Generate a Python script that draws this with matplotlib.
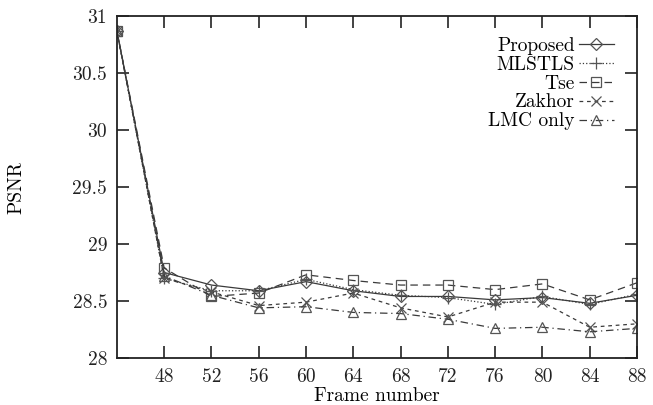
import matplotlib
matplotlib.use('Agg')
import matplotlib.pyplot as plt

plt.rcParams['font.family'] = 'cmr10'
plt.rcParams['axes.formatter.use_mathtext'] = True
plt.rcParams['mathtext.fontset'] = 'cm'

frames = [44, 48, 52, 56, 60, 64, 68, 72, 76, 80, 84, 88]
proposed = [30.87, 28.75, 28.64, 28.59, 28.67, 28.59, 28.54, 28.54, 28.51, 28.53, 28.48, 28.55]
mlstls = [30.87, 28.70, 28.59, 28.59, 28.69, 28.60, 28.55, 28.53, 28.47, 28.54, 28.47, 28.56]
tse = [30.87, 28.79, 28.54, 28.57, 28.73, 28.68, 28.64, 28.64, 28.60, 28.65, 28.51, 28.66]
zakhor = [30.87, 28.70, 28.58, 28.46, 28.49, 28.57, 28.44, 28.36, 28.49, 28.49, 28.27, 28.30]
lmc_only = [30.87, 28.72, 28.55, 28.44, 28.45, 28.40, 28.39, 28.34, 28.26, 28.27, 28.23, 28.26]

xticks = [48, 52, 56, 60, 64, 68, 72, 76, 80, 84, 88]
yticks = [28, 28.5, 29, 29.5, 30, 30.5, 31]
ytick_labels = ['28', '28.5', '29', '29.5', '30', '30.5', '31']

fig = plt.figure(figsize=(6.53, 4.05), dpi=100)
ax = fig.add_axes([0.179, 0.116, 0.7965, 0.8445])

c = '#3a3a3a'
kw = dict(color=c, lw=0.9, mfc='none', mec='#555555', ms=7.5, mew=0.9)
ax.plot(frames, proposed, ls='-', marker='D', label='Proposed', **{**kw, 'ms': 6})
ax.plot(frames, mlstls, ls=':', marker='+', label='MLSTLS', **{**kw, 'ms': 9})
ax.plot(frames, tse, ls=(0, (6, 4)), marker='s', label='Tse', **kw)
ax.plot(frames, zakhor, ls=(0, (3, 3)), marker='x', label='Zakhor', **kw)
ax.plot(frames, lmc_only, ls=(0, (6, 3, 1, 3)), marker='^', label='LMC only', **kw)

ax.set_xlim(44, 88)
ax.set_ylim(28, 31)
ax.set_xticks(xticks)
ax.set_xticklabels([str(t) for t in xticks])
ax.set_yticks(yticks)
ax.set_yticklabels(ytick_labels)
ax.tick_params(direction='in', length=8.5, width=1.2, top=True, right=True,
               labelsize=14, colors='#222222')
ax.tick_params(axis='x', pad=7)
ax.tick_params(axis='y', pad=7)
for s in ax.spines.values():
    s.set_linewidth(1.3)
    s.set_color('#222222')

ax.set_ylabel('PSNR', fontsize=14)
ax.yaxis.set_label_coords(-0.175, 0.5)
ax.set_xlabel('Frame number', fontsize=14)
ax.xaxis.set_label_coords(0.5, -0.086)

leg = ax.legend(loc='upper right', markerfirst=False, frameon=False, fontsize=14,
                handlelength=1.8, handletextpad=0.2, labelspacing=0.05,
                bbox_to_anchor=(0.97, 0.962), borderaxespad=0)

fig.savefig('out.png', dpi=100)
